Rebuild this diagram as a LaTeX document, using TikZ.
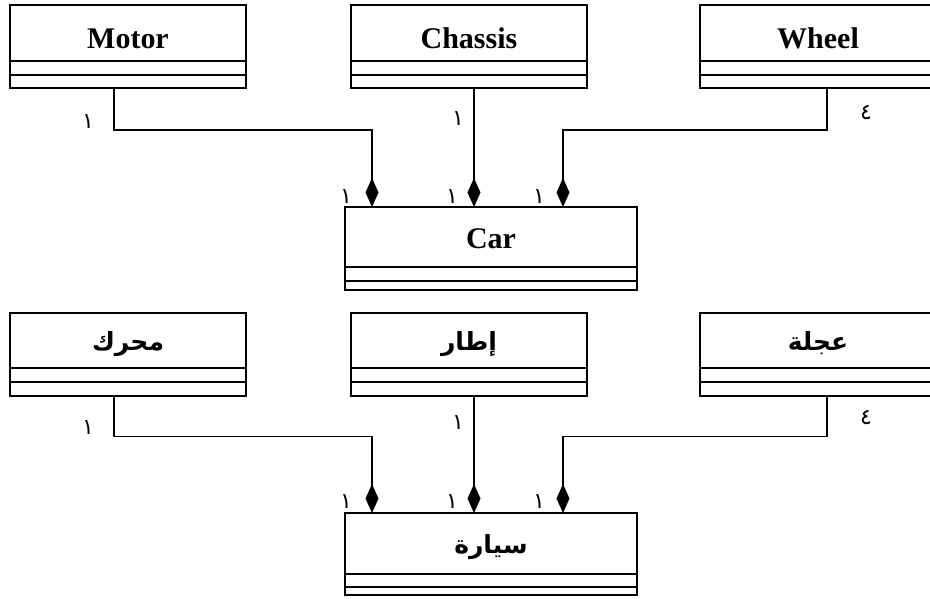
\documentclass[tikz,border=0pt]{standalone}
\usepackage{fontspec}
\setmainfont{Liberation Serif}
\newfontfamily\arabicfont[Script=Arabic]{DejaVu Sans}
\TeXXeTstate=1
\usetikzlibrary{arrows.meta}

\tikzset{
	classname/.style={draw, line width=2pt, outer sep=0pt, minimum width=236pt, minimum height=56pt, inner sep=0pt,
		text height=30pt, text depth=0pt, font=\bfseries\fontsize{30}{30}\selectfont},
	arname/.style={draw, line width=2pt, outer sep=0pt, minimum width=236pt, minimum height=55pt, inner sep=0pt,
		text height=24pt, text depth=4pt, font=\arabicfont\bfseries\fontsize{25}{25}\selectfont},
	classline/.style={line width=2pt},
	partof/.style={line width=1.6pt, -{Diamond[length=29pt,width=13pt]}},
	mult/.style={inner sep=0pt, font=\arabicfont\fontsize{22}{22}\selectfont},
}

\begin{document}
\begin{tikzpicture}[x=1pt, y=-1pt]
		%%%%% START %%%%%
		\useasboundingbox (0,0) rectangle (930,598);
		
		% english diagram
		\node[classname] (motor) at (128,33) {Motor};
		\node[classname] (chassis) at (469,33) {Chassis};
		\node[classname] (wheel) at (818,33) {Wheel};
		\node[classname, minimum width=292pt, minimum height=60pt, text height=22pt] (car) at (491,237) {Car};
		
		% arabic diagram
		\node[arname] (mohrek) at (128,340) {\beginR محرك\endR};
		\node[arname] (itar) at (469,340) {\beginR إطار\endR};
		\node[arname] (ajala) at (818,340) {\beginR عجلة\endR};
		\node[arname, minimum width=292pt, minimum height=61pt] (sayara) at (491,543.5) {\beginR سيارة\endR};
		
		% attribute and operation compartments
		\foreach \c/\a/\b in {motor/14/27, chassis/14/27, wheel/14/27, car/14/23,
			mohrek/14/28, itar/14/28, ajala/14/28, sayara/13/21} {
			\draw[classline] (\c.south west) rectangle ([yshift=-\b pt]\c.south east);
			\draw[classline] ([yshift=-\a pt]\c.south west) -- ([yshift=-\a pt]\c.south east);
		}
		
		% compositions
		\draw[partof] ([xshift=-14pt,yshift=-27pt]motor.south) -- ++(0,42) -| ([xshift=-119pt]car.north);
		\draw[partof] ([xshift=5pt,yshift=-27pt]chassis.south) -- ([xshift=-17pt]car.north);
		\draw[partof] ([xshift=9pt,yshift=-27pt]wheel.south) -- ++(0,42) -| ([xshift=72pt]car.north);
		
		\draw[partof] ([xshift=-14pt,yshift=-28pt]mohrek.south) -- ++(0,41) -| ([xshift=-119pt]sayara.north);
		\draw[partof] ([xshift=5pt,yshift=-28pt]itar.south) -- ([xshift=-17pt]sayara.north);
		\draw[partof] ([xshift=9pt,yshift=-28pt]ajala.south) -- ++(0,41) -| ([xshift=72pt]sayara.north);
		
		% multiplicities
		\node[mult] (m1) at (88,122) {١};
		\node[mult] (m2) at (458,119) {١};
		\node[mult] (m3) at (866,113) {٤};
		\node[mult] (m4) at (346,197) {١};
		\node[mult] (m5) at (452,197) {١};
		\node[mult] (m6) at (539,197) {١};
		
		\node[mult] (n1) at (88,428) {١};
		\node[mult] (n2) at (458,423) {١};
		\node[mult] (n3) at (866,418) {٤};
		\node[mult] (n4) at (346,502) {١};
		\node[mult] (n5) at (452,502) {١};
		\node[mult] (n6) at (539,502) {١};
		
		%%%%% END %%%%%
	\end{tikzpicture}
\end{document}
